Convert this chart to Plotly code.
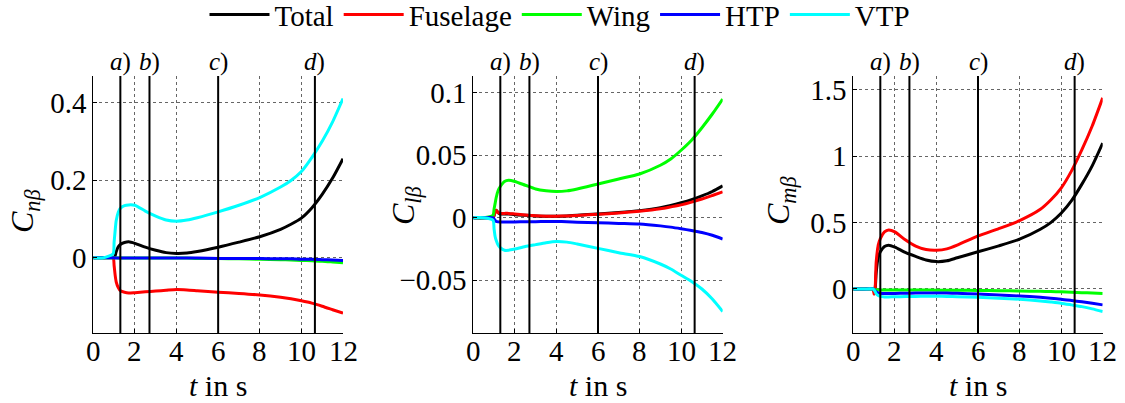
import plotly.graph_objects as go

# ---------------- data ----------------
T = [0, 0.5, 0.95, 1.0, 1.05, 1.1, 1.2, 1.3, 1.5, 1.7, 2.0, 2.5, 3.0, 3.5, 4.0, 4.5,
     5.0, 6.0, 7.0, 8.0, 9.0, 9.5, 10.0, 10.5, 11.0, 11.5, 12.0]

series_names = ["Total", "Fuselage", "Wing", "HTP", "VTP"]
series_colors = ["#000000", "#ff0000", "#00ff00", "#0000ff", "#00ffff"]

# C_n_beta
total_n = [0, 0, 0, 0, 0.005, 0.015, 0.028, 0.034, 0.039, 0.041, 0.037, 0.027, 0.019, 0.013, 0.011, 0.012,
           0.016, 0.027, 0.040, 0.054, 0.073, 0.086, 0.102, 0.128, 0.163, 0.205, 0.255]
fus_n = [0, 0, 0, -0.02, -0.045, -0.062, -0.077, -0.085, -0.089, -0.091, -0.090, -0.088, -0.086, -0.084, -0.082, -0.083,
         -0.085, -0.089, -0.092, -0.096, -0.102, -0.106, -0.111, -0.117, -0.125, -0.134, -0.143]
wing_n = [0, 0, 0, 0, 0, 0, -0.001, -0.001, -0.001, -0.001, -0.001, -0.001, -0.001, -0.001, -0.001, -0.001,
          -0.002, -0.002, -0.003, -0.004, -0.005, -0.006, -0.007, -0.008, -0.009, -0.011, -0.013]
htp_n = [0, 0, 0, 0, -0.001, -0.001, -0.001, -0.001, -0.001, -0.001, -0.001, -0.001, -0.001, -0.001, -0.001, -0.001,
         -0.001, -0.002, -0.002, -0.002, -0.003, -0.003, -0.004, -0.004, -0.005, -0.006, -0.007]
vtp_n = [0, 0, 0.01, 0.04, 0.07, 0.095, 0.117, 0.127, 0.134, 0.136, 0.135, 0.12, 0.107, 0.097, 0.094, 0.097,
         0.103, 0.118, 0.135, 0.155, 0.182, 0.199, 0.222, 0.258, 0.300, 0.350, 0.410]

# C_l_beta
total_l = [0, 0, 0, 0.002, 0.005, 0.006, 0.004, 0.003, 0.003, 0.003, 0.0025, 0.002, 0.0015, 0.0012, 0.0012, 0.0015,
           0.002, 0.003, 0.0042, 0.0057, 0.008, 0.0098, 0.012, 0.0145, 0.0175, 0.021, 0.0255]
fus_l = [0, 0, 0, 0.002, 0.004, 0.006, 0.004, 0.0035, 0.0035, 0.0035, 0.003, 0.0022, 0.0016, 0.0013, 0.0013, 0.0015,
         0.0019, 0.0028, 0.0038, 0.0052, 0.0072, 0.0087, 0.0103, 0.0125, 0.015, 0.0178, 0.0207]
wing_l = [0, 0, 0.002, 0.007, 0.0115, 0.016, 0.022, 0.025, 0.029, 0.030, 0.029, 0.026, 0.023, 0.0216, 0.021, 0.0215,
          0.023, 0.027, 0.031, 0.035, 0.042, 0.047, 0.054, 0.062, 0.072, 0.083, 0.095]
htp_l = [0, 0, 0, -0.001, -0.002, -0.003, -0.0033, -0.0034, -0.0034, -0.0034, -0.0033, -0.0032, -0.0031, -0.003, -0.003, -0.0032,
         -0.0035, -0.004, -0.0045, -0.005, -0.0065, -0.0075, -0.0088, -0.0102, -0.0118, -0.014, -0.017]
vtp_l = [0, 0, -0.002, -0.009, -0.015, -0.018, -0.022, -0.024, -0.026, -0.026, -0.025, -0.023, -0.0215, -0.020, -0.019, -0.0195,
         -0.021, -0.0245, -0.028, -0.031, -0.037, -0.041, -0.046, -0.051, -0.057, -0.065, -0.075]

# C_m_beta
total_m = [0, 0, 0, -0.02, 0.0, 0.12, 0.24, 0.28, 0.32, 0.33, 0.315, 0.275, 0.245, 0.218, 0.206, 0.212,
           0.235, 0.28, 0.325, 0.375, 0.45, 0.5, 0.57, 0.665, 0.79, 0.93, 1.1]
fus_m = [0, 0, 0, -0.04, 0.0, 0.2, 0.33, 0.38, 0.43, 0.445, 0.43, 0.37, 0.322, 0.297, 0.292, 0.302,
         0.33, 0.40, 0.455, 0.515, 0.60, 0.67, 0.76, 0.89, 1.05, 1.23, 1.44]
wing_m = [0, 0, 0, -0.003, -0.005, -0.006, -0.007, -0.007, -0.007, -0.007, -0.007, -0.007, -0.008, -0.008, -0.009, -0.009,
          -0.01, -0.011, -0.013, -0.015, -0.018, -0.02, -0.022, -0.025, -0.028, -0.031, -0.035]
htp_m = [0, 0, 0, -0.005, -0.012, -0.02, -0.03, -0.033, -0.035, -0.035, -0.034, -0.032, -0.031, -0.030, -0.030, -0.031,
         -0.033, -0.038, -0.045, -0.053, -0.063, -0.07, -0.077, -0.087, -0.097, -0.108, -0.12]
vtp_m = [0, 0, 0, -0.008, -0.02, -0.035, -0.05, -0.056, -0.06, -0.06, -0.059, -0.057, -0.056, -0.055, -0.055, -0.056,
         -0.058, -0.063, -0.07, -0.078, -0.09, -0.098, -0.107, -0.12, -0.133, -0.15, -0.17]

event_times = [1.3, 2.7, 6.0, 10.65]
event_labels = ["<i>a</i>)", "<i>b</i>)", "<i>c</i>)", "<i>d</i>)"]

x_ticks = [0, 2, 4, 6, 8, 10, 12]
x_tick_labels = ["0", "2", "4", "6", "8", "10", "12"]
y_ticks_n = [0, 0.2, 0.4]
y_labels_n = ["0", "0.2", "0.4"]
y_ticks_l = [-0.05, 0, 0.05, 0.1]
y_labels_l = ["\u22120.05", "0", "0.05", "0.1"]
y_ticks_m = [0, 0.5, 1, 1.5]
y_labels_m = ["0", "0.5", "1", "1.5"]

y_titles = ["<i>C</i><sub><i>n\u03b2</i></sub>", "<i>C</i><sub><i>l\u03b2</i></sub>",
            "<i>C</i><sub><i>m\u03b2</i></sub>"]
x_title = "<i>t</i> in s"

# ---------------- layout geometry ----------------
W, H = 1125, 403
FONT = "'Liberation Serif', 'Times New Roman', 'DejaVu Serif', serif"
TICK_SIZE = 29
x_doms = [(93.3 / W, 343 / W), (473.3 / W, 722.7 / W), (853.3 / W, 1102.7 / W)]
y_dom = (1 - 333 / H, 1 - 76 / H)
y_ranges = [(-0.194, 0.468), (-0.0922, 0.1134), (-0.332, 1.605)]

fig = go.Figure()

panels = [
    ([total_n, fus_n, wing_n, htp_n, vtp_n], y_ticks_n, y_labels_n),
    ([total_l, fus_l, wing_l, htp_l, vtp_l], y_ticks_l, y_labels_l),
    ([total_m, fus_m, wing_m, htp_m, vtp_m], y_ticks_m, y_labels_m),
]

for p, (data, yt, yl) in enumerate(panels):
    xa = "x" if p == 0 else f"x{p+1}"
    ya = "y" if p == 0 else f"y{p+1}"
    for k, vals in enumerate(data):
        fig.add_trace(go.Scatter(
            x=T, y=vals, mode="lines", name=series_names[k],
            line=dict(color=series_colors[k], width=3, shape="spline", smoothing=0.6),
            showlegend=(p == 0), xaxis=xa, yaxis=ya, legendgroup=series_names[k],
        ))
    axis_common = dict(
        showline=True, linecolor="black", linewidth=1, mirror=False,
        ticks="inside", ticklen=4, tickcolor="black",
        showgrid=True, gridcolor="#666666", gridwidth=1, griddash="dot",
        zeroline=False, tickfont=dict(family=FONT, size=TICK_SIZE, color="black"),
    )
    xkey = "xaxis" if p == 0 else f"xaxis{p+1}"
    ykey = "yaxis" if p == 0 else f"yaxis{p+1}"
    fig.update_layout({
        xkey: dict(domain=list(x_doms[p]), range=[0, 12], tickvals=x_ticks,
                   anchor=ya, showticklabels=False, **axis_common),
        ykey: dict(domain=list(y_dom), range=list(y_ranges[p]), tickvals=yt, ticktext=yl,
                   anchor=xa, ticklabelstandoff=0, **axis_common),
    })
    # x tick labels placed close to the axis
    for tv, tl in zip(x_ticks, x_tick_labels):
        fig.add_annotation(text=tl, xref=xa, yref="paper", x=tv, y=1 - 351 / H,
                           xanchor="center", yanchor="middle", showarrow=False,
                           font=dict(family=FONT, size=TICK_SIZE, color="black"))
    for et, lab in zip(event_times, event_labels):
        fig.add_shape(type="line", xref=xa, yref=f"{ya} domain", x0=et, x1=et, y0=0, y1=1,
                      line=dict(color="black", width=2))
        fig.add_annotation(text=lab, xref=xa, yref="paper", x=et, y=1 - 62 / H,
                           xanchor="center", yanchor="middle", showarrow=False,
                           font=dict(family=FONT, size=25, color="black"))
    # x-axis title
    fig.add_annotation(text=x_title, xref=f"{xa} domain", yref="paper", x=0.5, y=1 - 385.5 / H,
                       xanchor="center", yanchor="middle", showarrow=False,
                       font=dict(family=FONT, size=30, color="black"))

title_pos = [(25, 211), (405, 205), (780, 200)]
for (px, py), txt in zip(title_pos, y_titles):
    fig.add_annotation(text=txt, xref="paper", yref="paper", x=px / W, y=1 - py / H,
                       textangle=-90, showarrow=False, xanchor="center", yanchor="middle",
                       font=dict(family=FONT, size=32, color="black"))

fig.update_layout(
    width=W, height=H, margin=dict(l=0, r=0, t=0, b=0, autoexpand=False),
    paper_bgcolor="white", plot_bgcolor="white",
    font=dict(family=FONT, color="black"),
    legend=dict(orientation="h", x=560 / W, xanchor="center", y=1.027, yanchor="top",
                font=dict(family=FONT, size=29, color="black"),
                bgcolor="rgba(0,0,0,0)", tracegroupgap=0, itemwidth=60),
)

fig.write_html("out.html")
